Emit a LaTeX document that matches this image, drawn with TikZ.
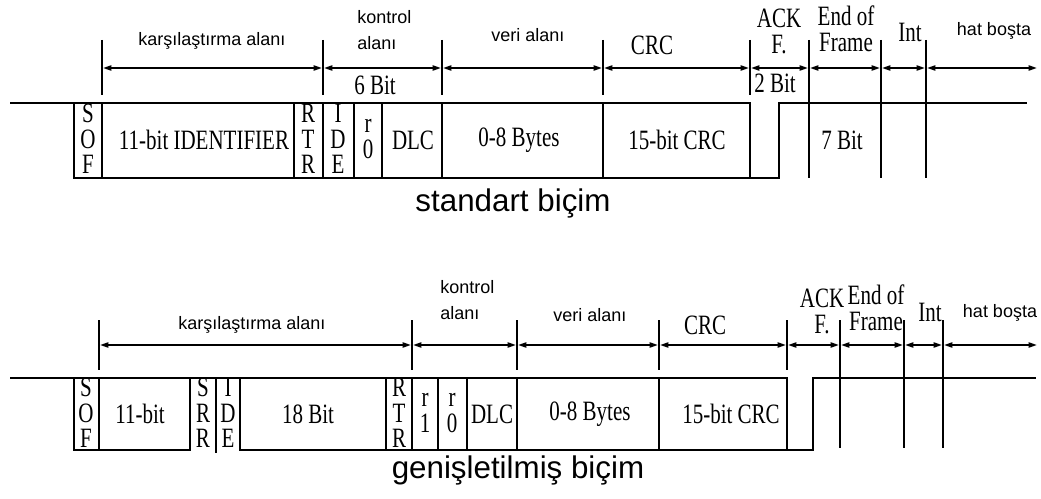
\documentclass[tikz,border=0pt]{standalone}
\usepackage{fontspec}
\setmainfont{Liberation Serif}
\newfontfamily\fieldfont{Liberation Serif}[FakeStretch=0.75]
\newfontfamily\areafont{Liberation Sans}
\usetikzlibrary{arrows.meta}

\begin{document}
\begin{tikzpicture}[
        x=0.75pt, y=-0.75pt,
        signal/.style={line width=1.1pt, draw=black},
        tick/.style={line width=1.1pt, draw=black},
        span/.style={{Triangle[length=6pt,width=4pt]}-{Triangle[length=6pt,width=4pt]}, line width=0.9pt, shorten <=1pt, shorten >=1pt},
        field/.style={font=\fieldfont\fontsize{21}{19}\selectfont, inner sep=0pt, align=center},
        area/.style={font=\areafont\fontsize{13.5}{19}\selectfont, inner sep=0pt, align=center},
        caption/.style={font=\areafont\fontsize{23.5}{28}\selectfont, inner sep=0pt}
    ]
        \useasboundingbox (0,0) rectangle (1041,499);

        % Standard frame
        \draw[signal] (10,103) -- (750,103) -- (750,178) -- (779,178) -- (779,103) -- (1027,103);
        \draw[signal] (74,103) -- (74,178) -- (750,178);
        \foreach \x in {102,294,323,354,382,442,603}
            \draw[signal] (\x,103) -- (\x,178);
        \foreach \x in {809,881,926}
            \draw[signal] (\x,95) -- (\x,178);

        % Standard frame spans
        \foreach \n/\x in {a/102,b/323,c/442,d/603,e/750,f/809,g/881,h/926} {
            \draw[tick] (\x,40) -- (\x,95);
            \coordinate (st\n) at (\x,68);
        }
        \coordinate (stend) at (1038,68);
        \foreach \p/\q in {a/b,b/c,c/d,d/e,e/f,f/g,g/h,h/end}
            \draw[span] (st\p) -- (st\q);

        \node[area] (starb) at (212,41) {karşılaştırma alanı};
        \node[area, anchor=west, align=left] (stctl) at (357,30) {kontrol\\alanı};
        \node[field] (stsix) at (375,85) {6 Bit};
        \node[area] (stdat) at (528,35) {veri alanı};
        \node[field] (stcrc) at (652,45) {CRC};
        \node[field, font=\fieldfont\fontsize{21}{19.5}\selectfont] (stack) at (779,31) {ACK\\F.};
        \node[field, font=\fieldfont\fontsize{21}{19.5}\selectfont] (steof) at (846,29) {End of\\Frame};
        \node[field] (stint) at (910,32) {Int};
        \node[field] (sttwo) at (775,83) {2 Bit};
        \node[area] (stidle) at (994,31) {hat boşta};

        \node[field] (stsof) at (88,139) {S\\O\\F};
        \node[field] (stid) at (204,140) {11-bit IDENTIFIER};
        \node[field] (strtr) at (308,139) {R\\T\\R};
        \node[field] (stide) at (338,139) {I\\D\\E};
        \node[field, font=\fieldfont\fontsize{21}{19.5}\selectfont] (str0) at (368,139) {r\\0};
        \node[field] (stdlc) at (413,140) {DLC};
        \node[field] (stbytes) at (519,140) {0-8 Bytes};
        \node[field] (stcrcf) at (677,140) {15-bit CRC};
        \node[field] (steofb) at (842,140) {7 Bit};
        \node[caption] (stname) at (513,203) {standart biçim};

        % Extended frame
        \draw[signal] (10,378) -- (787,378) -- (787,450) -- (813,450) -- (813,378) -- (1036,378);
        \draw[signal] (74,378) -- (74,450) -- (190,450) -- (190,378);
        \draw[signal] (240,378) -- (240,450) -- (787,450);
        \foreach \x in {99,386,412,438,467,517,659}
            \draw[signal] (\x,378) -- (\x,450);
        \draw[signal, line width=1.8pt] (216,378) -- (216,453);
        \foreach \x in {840,904,943}
            \draw[signal] (\x,370) -- (\x,448);

        % Extended frame spans
        \foreach \n/\x in {a/99,b/412,c/517,d/659,e/787,f/840,g/904,h/943} {
            \draw[tick] (\x,320) -- (\x,370);
            \coordinate (ex\n) at (\x,345);
        }
        \coordinate (exend) at (1038,345);
        \foreach \p/\q in {a/b,b/c,c/d,d/e,e/f,f/g,g/h,h/end}
            \draw[span] (ex\p) -- (ex\q);

        \node[area] (exarb) at (252,325) {karşılaştırma alanı};
        \node[area, anchor=west, align=left] (exctl) at (440,300) {kontrol\\alanı};
        \node[area] (exdat) at (590,315) {veri alanı};
        \node[field] (excrc) at (705,325) {CRC};
        \node[field, font=\fieldfont\fontsize{21}{19.5}\selectfont] (exack) at (822,311) {ACK\\F.};
        \node[field, font=\fieldfont\fontsize{21}{19.5}\selectfont] (exeof) at (876,308) {End of\\Frame};
        \node[field] (exint) at (930,312) {Int};
        \node[area] (exidle) at (1000,313) {hat boşta};

        \node[field] (exsof) at (86,413) {S\\O\\F};
        \node[field] (exid) at (140,414) {11-bit};
        \node[field] (exsrr) at (203,413) {S\\R\\R};
        \node[field] (exide) at (228,413) {I\\D\\E};
        \node[field] (exext) at (308,414) {18 Bit};
        \node[field] (exrtr) at (399,413) {R\\T\\R};
        \node[field, font=\fieldfont\fontsize{21}{19.5}\selectfont] (exr1) at (425,413) {r\\1};
        \node[field, font=\fieldfont\fontsize{21}{19.5}\selectfont] (exr0) at (452,413) {r\\0};
        \node[field] (exdlc) at (492,414) {DLC};
        \node[field] (exbytes) at (590,414) {0-8 Bytes};
        \node[field] (excrcf) at (731,414) {15-bit CRC};
        \node[caption] (exname) at (518,470) {genişletilmiş biçim};
    \end{tikzpicture}
\end{document}
